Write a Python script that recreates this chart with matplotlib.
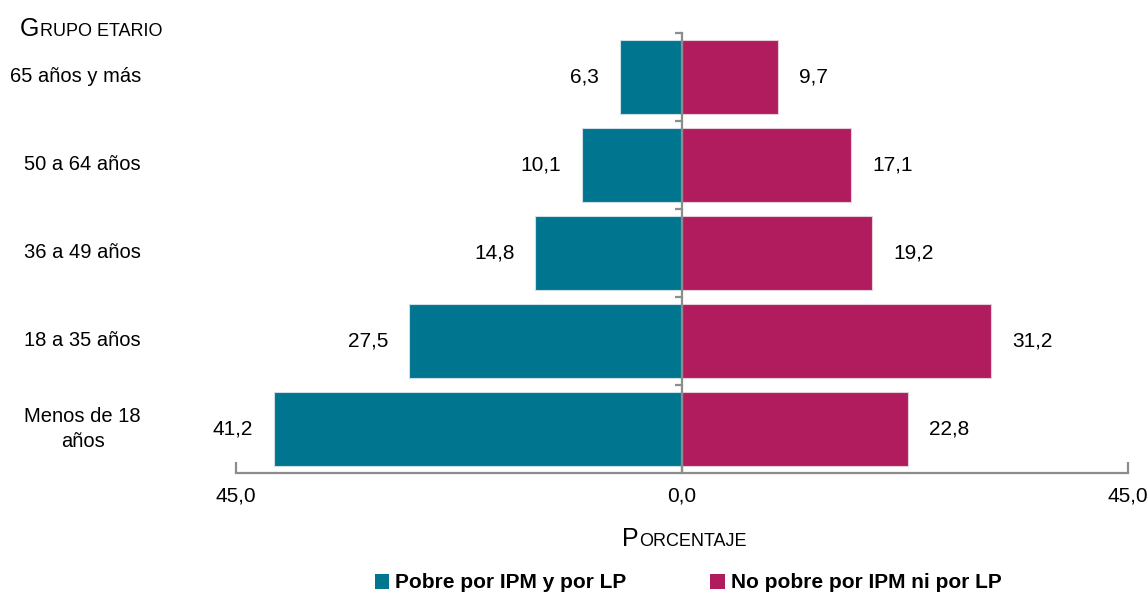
import matplotlib
matplotlib.use("Agg")
import matplotlib.pyplot as plt
import matplotlib.transforms as mtransforms
from matplotlib.patches import Patch
import numpy as np

plt.rcParams["font.family"] = ["Liberation Sans", "DejaVu Sans"]

# Data
groups = ["65 años y más", "50 a 64 años", "36 a 49 años", "18 a 35 años", "Menos de 18\naños"]
pobre = [6.3, 10.1, 14.8, 27.5, 41.2]
no_pobre = [9.7, 17.1, 19.2, 31.2, 22.8]
xticks = [-45, 0, 45]
xtick_labels = ["45,0", "0,0", "45,0"]
series_names = ["Pobre por IPM y por LP", "No pobre por IPM ni por LP"]

teal = "#00758F"
magenta = "#B01C5E"
gray = "#8C8C8C"


def fmt(v):
    return f"{v:.1f}".replace(".", ",")


def small_caps(fig, x, y, word, big, small):
    # first letter at full size, the rest as smaller capitals on the same baseline
    t1 = fig.text(x, y, word[0].upper(), fontsize=big, va="baseline", ha="left")
    r = fig.canvas.get_renderer()
    bb = t1.get_window_extent(renderer=r)
    x2 = (bb.x1 + 1) / (fig.get_figwidth() * fig.dpi)
    fig.text(x2, y, word[1:].upper(), fontsize=small, va="baseline", ha="left")


fig = plt.figure(figsize=(11.48, 6.0), dpi=100)
ax = fig.add_axes([236 / 1148, 1 - 473 / 600, (1128 - 236) / 1148, 440 / 600])

y = np.arange(len(groups))
left = ax.barh(y, -np.array(pobre), height=0.85, color=teal, edgecolor="#cfdde4", linewidth=0.8)
right = ax.barh(y, no_pobre, height=0.85, color=magenta, edgecolor="#e4cfd8", linewidth=0.8)

ax.bar_label(left, labels=[fmt(v) for v in pobre], padding=15, fontsize=15)
ax.bar_label(right, labels=[fmt(v) for v in no_pobre], padding=15, fontsize=15)

ax.set_xlim(-45, 45)
ax.set_ylim(len(groups) - 0.5, -0.5)

# axes styling
for s in ["top", "right"]:
    ax.spines[s].set_visible(False)
ax.spines["left"].set_position(("data", 0))
ax.spines["left"].set_color(gray)
ax.spines["left"].set_linewidth(1.6)
ax.spines["bottom"].set_color(gray)
ax.spines["bottom"].set_linewidth(1.6)
ax.set_yticks([])
ax.set_yticks(np.arange(len(groups)) - 0.5, minor=True)
ax.tick_params(axis="y", which="minor", length=5, width=1.6, color=gray, direction="out")
ax.set_xticks(xticks)
ax.set_xticklabels(xtick_labels, fontsize=15)
ax.tick_params(axis="x", length=8, width=1.6, color=gray, direction="in", pad=10)

# category labels, right aligned at left margin
trans = mtransforms.blended_transform_factory(fig.transFigure, ax.transData)
for yi, g in zip(y, groups):
    ax.text(141 / 1148, yi, g, transform=trans, ha="right", va="center",
            multialignment="center", fontsize=14.5, linespacing=1.45)

# small-caps titles
small_caps(fig, 20 / 1148, 1 - 36 / 600, "Grupo etario", 18, 13)
small_caps(fig, 622 / 1148, 1 - 546 / 600, "Porcentaje", 18, 13)

handles = [Patch(facecolor=teal), Patch(facecolor=magenta)]
leg = fig.legend(handles, series_names, loc="center", bbox_to_anchor=(688 / 1148, 1 - 583 / 600),
                 ncol=2, frameon=False, handlelength=0.7, handleheight=0.7,
                 handletextpad=0.3, columnspacing=4,
                 prop={"size": 15, "weight": "bold"})

fig.savefig("out.png", dpi=100)
